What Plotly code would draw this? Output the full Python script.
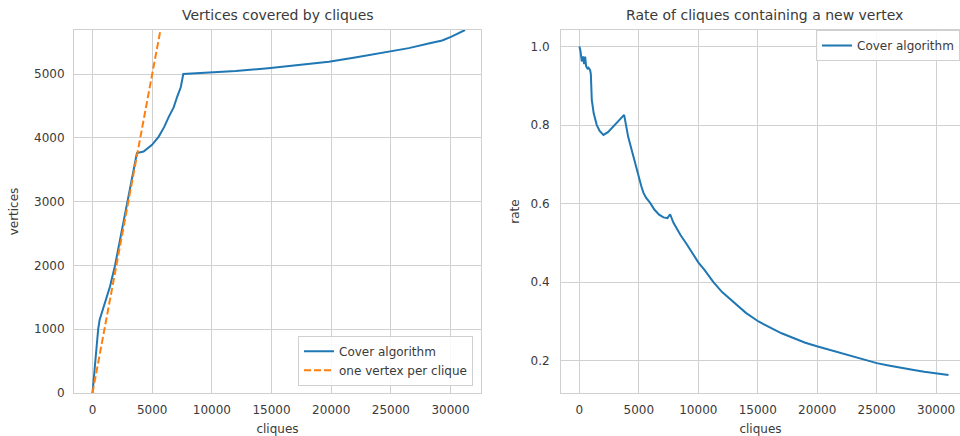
import plotly.graph_objects as go

# ---- data ----
cover_x = [0, 150, 300, 475, 600, 760, 1100, 1465, 1887, 2876, 3720, 4280, 4990,
           5550, 6000, 6400, 6800, 7100, 7400, 7610, 8500, 9925, 12000, 14720,
           17000, 19800, 22000, 24870, 26500, 28250, 29300, 30080, 30700, 31210]
cover_y = [0, 350, 700, 1000, 1150, 1254, 1460, 1671, 2000, 2950, 3765, 3787, 3892,
           4022, 4170, 4335, 4480, 4650, 4800, 5005, 5012, 5025, 5050, 5094,
           5140, 5197, 5262, 5354, 5410, 5486, 5530, 5590, 5640, 5694]

ref_x = [0, 31210]
ref_y = [0, 31210]

rate_x = [0, 80, 200, 300, 400, 480, 560, 675, 760, 900, 960, 1040, 1200, 1460,
          1700, 2020, 2400, 2860, 3300, 3760, 4100, 4540, 4900, 5200, 5380, 5600,
          5950, 6300, 6700, 7070, 7400, 7630, 7900, 8500, 9000, 9500, 10010, 10500,
          11270, 12000, 13000, 14000, 15060, 16000, 17000, 18000, 19000, 19970,
          21000, 22000, 23000, 24000, 25010, 26000, 27000, 28000, 29000, 30000, 31040]
rate_y = [1.0, 0.99, 0.962, 0.975, 0.955, 0.974, 0.95, 0.944, 0.946, 0.94, 0.93,
          0.864, 0.83, 0.80, 0.785, 0.775, 0.782, 0.797, 0.81, 0.826, 0.77, 0.72,
          0.675, 0.645, 0.628, 0.615, 0.602, 0.585, 0.572, 0.565, 0.563, 0.573,
          0.552, 0.52, 0.498, 0.473, 0.45, 0.432, 0.40, 0.375, 0.348, 0.322, 0.30,
          0.285, 0.270, 0.258, 0.246, 0.237, 0.228, 0.220, 0.210, 0.202, 0.194,
          0.188, 0.182, 0.177, 0.172, 0.168, 0.164]

x_ticks = [0, 5000, 10000, 15000, 20000, 25000, 30000]
x_tick_labels = ["0", "5000", "10000", "15000", "20000", "25000", "30000"]
left_y_ticks = [0, 1000, 2000, 3000, 4000, 5000]
left_y_labels = ["0", "1000", "2000", "3000", "4000", "5000"]
right_y_ticks = [0.2, 0.4, 0.6, 0.8, 1.0]
right_y_labels = ["0.2", "0.4", "0.6", "0.8", "1.0"]

BLUE = "#1f77b4"
ORANGE = "#ff7f0e"
GRID = "#d0d0d0"
TXT = "#3a3a3a"
FONT = "DejaVu Sans"

fig = go.Figure()
fig.add_trace(go.Scatter(x=cover_x, y=cover_y, mode="lines", name="Cover algorithm",
                         line=dict(color=BLUE, width=2), xaxis="x", yaxis="y",
                         legend="legend"))
fig.add_trace(go.Scatter(x=ref_x, y=ref_y, mode="lines", name="one vertex per clique",
                         line=dict(color=ORANGE, width=2, dash="7px,3px"),
                         xaxis="x", yaxis="y", legend="legend"))
fig.add_trace(go.Scatter(x=rate_x, y=rate_y, mode="lines", name="Cover algorithm",
                         line=dict(color=BLUE, width=2), xaxis="x2", yaxis="y2",
                         legend="legend2"))

ax_common = dict(showgrid=True, gridcolor=GRID, gridwidth=1, zeroline=False,
                 showline=True, linecolor=GRID, linewidth=1, mirror=True,
                 ticks="", tickfont=dict(family=FONT, size=12, color=TXT))

W, H = 960, 436
fig.update_layout(
    width=W, height=H,
    margin=dict(l=0, r=0, t=30, b=43),
    paper_bgcolor="white", plot_bgcolor="white",
    font=dict(family=FONT, size=12, color=TXT),
    xaxis=dict(domain=[74 / W, 481 / W], range=[-1550, 32550], tickvals=x_ticks,
               ticktext=x_tick_labels, ticklabelstandoff=6,
               title=dict(text="cliques", standoff=8, font=dict(size=12, color=TXT)),
               anchor="y", **ax_common),
    yaxis=dict(range=[0, 5694], tickvals=left_y_ticks, ticktext=left_y_labels,
               ticklabelstandoff=6,
               title=dict(text="vertices", standoff=12, font=dict(size=12, color=TXT)),
               anchor="x", **ax_common),
    xaxis2=dict(domain=[561 / W, 1.0], range=[-1550, 32010], tickvals=x_ticks,
                ticktext=x_tick_labels, ticklabelstandoff=6,
                title=dict(text="cliques", standoff=8, font=dict(size=12, color=TXT)),
                anchor="y2", **ax_common),
    yaxis2=dict(range=[0.118, 1.042], tickvals=right_y_ticks, ticktext=right_y_labels,
                ticklabelstandoff=8,
                title=dict(text="rate", standoff=8, font=dict(size=12, color=TXT)),
                anchor="x2", **ax_common),
    legend=dict(x=473 / W, xanchor="right", y=0.02, yanchor="bottom",
                bgcolor="rgba(255,255,255,0.85)", bordercolor="#d0d0d0", borderwidth=1,
                font=dict(family=FONT, size=12, color=TXT), tracegroupgap=0,
                itemwidth=30),
    legend2=dict(x=1.0, xanchor="right", y=1.0, yanchor="top",
                 bgcolor="rgba(255,255,255,0.85)", bordercolor="#d0d0d0", borderwidth=1,
                 font=dict(family=FONT, size=12, color=TXT), itemwidth=30),
    showlegend=True,
    annotations=[
        dict(text="Vertices covered by cliques", x=277.5 / W, y=1.04, xref="paper",
             yref="paper", showarrow=False, font=dict(family=FONT, size=14, color=TXT),
             xanchor="center", yanchor="middle"),
        dict(text="Rate of cliques containing a new vertex", x=764 / W, y=1.04,
             xref="paper", yref="paper", showarrow=False,
             font=dict(family=FONT, size=14, color=TXT), xanchor="center",
             yanchor="middle"),
    ],
)
py = 1 + 15 / (H - 30 - 43)
for a in fig.layout.annotations:
    a.y = py

fig.write_html("out.html")
